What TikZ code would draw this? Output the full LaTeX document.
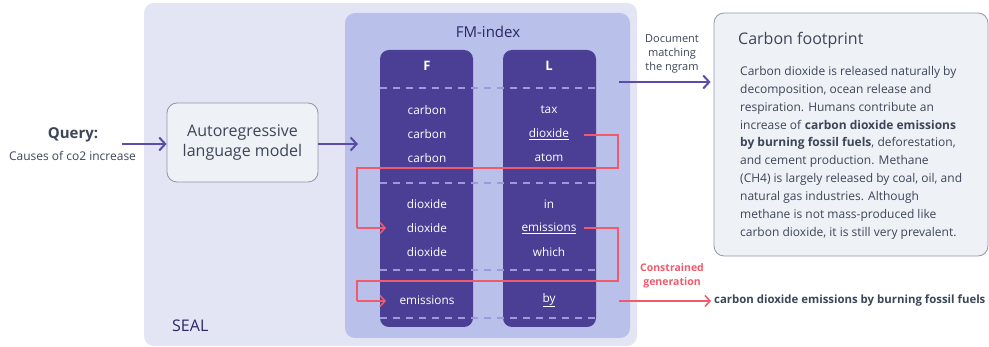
\documentclass[tikz,border=0pt]{standalone}
\usepackage{fontspec}
\setmainfont{Open Sans}
\usetikzlibrary{arrows.meta,calc}
\definecolor{sealbg}{HTML}{E3E4F4}
\definecolor{fmbg}{HTML}{B9C1EB}
\definecolor{colbg}{HTML}{4A3F95}
\definecolor{dashc}{HTML}{9C9ADB}
\definecolor{redc}{HTML}{EF5B6B}
\definecolor{purp}{HTML}{5B4CA8}
\definecolor{slate}{HTML}{3C4657}
\definecolor{boxbg}{HTML}{EEF1F6}
\definecolor{boxline}{HTML}{8E98AA}
\definecolor{navy}{HTML}{2B2664}
\tikzset{
  panel/.style={draw=none, rounded corners=10pt, inner sep=0pt},
  colbox/.style={fill=colbg, rounded corners=9pt, minimum width=93pt, minimum height=277pt, inner sep=0pt},
  cell/.style={text=white, font=\fontsize{11.8}{12}\selectfont, inner sep=0pt},
  head/.style={text=white, font=\fontsize{13}{14}\selectfont\bfseries, inner sep=0pt},
  sep/.style={dashc, line width=1.2pt, dash pattern=on 7pt off 6pt},
  redline/.style={redc, line width=1.3pt},
  redarrow/.style={redc, line width=1.5pt, -{Straight Barb[length=5pt,width=11pt,line width=1.5pt]}},
  parrow/.style={purp, line width=2pt, -{Straight Barb[length=6pt,width=13pt,line width=2pt]}},
  softbox/.style={fill=boxbg, draw=boxline, line width=0.8pt, rounded corners=10pt, inner sep=0pt},
  small/.style={text=slate, font=\fontsize{11}{14}\selectfont, align=center, inner sep=0pt},
}
\begin{document}
\begin{tikzpicture}[x=1pt,y=-1pt]
\useasboundingbox (0,0) rectangle (989,347);
% SEAL panel
\node[panel, fill=sealbg, minimum width=493pt, minimum height=343pt] (seal) at (390.5,174.5) {};
\node[anchor=base west, text=navy, font=\fontsize{16}{17}\selectfont, inner sep=0pt] (seallbl) at (172,332) {SEAL};
% FM-index panel
\node[panel, fill=fmbg, minimum width=285pt, minimum height=325pt] (fm) at (487.5,175.5) {};
\node[text=navy, font=\fontsize{15}{16}\selectfont, inner sep=0pt] (fmlbl) at (488,32) {FM-index};
% columns
\node[colbox] (F) at (426.5,188.5) {};
\node[colbox] (L) at (549.5,188.5) {};
\node[head] (Fh) at (427,66) {F};
\node[head] (Lh) at (549,66) {L};
\foreach \yy/\nm in {88/s1,183/s2,270/s3,318/s4}{
  \draw[sep] (380,\yy) coordinate (\nm a) -- (596,\yy) coordinate (\nm b);
}
% F entries
\node[cell] (F1) at (427,110) {carbon};
\node[cell] (F2) at (427,134) {carbon};
\node[cell] (F3) at (427,158) {carbon};
\node[cell] (F4) at (427,204) {dioxide};
\node[cell] (F5) at (427,228) {dioxide};
\node[cell] (F6) at (427,252) {dioxide};
\node[cell] (F7) at (427,300) {emissions};
% L entries
\node[cell] (L1) at (549,110) {tax};
\node[cell] (L2) at (549,134) {\underline{dioxide}};
\node[cell] (L3) at (549,158) {atom};
\node[cell] (L4) at (549,204) {in};
\node[cell] (L5) at (549,228) {\underline{emissions}};
\node[cell] (L6) at (549,252) {which};
\node[cell] (L7) at (549,300) {\underline{by}};
% red routing
\coordinate (r1s) at (584,135);
\coordinate (r1t) at (386,228);
\draw[redline] (r1s) -- (618,135) -- (618,168) -- (357,168) -- (357,228);
\draw[redarrow] (357,228) -- (r1t);
\coordinate (r2s) at (584,228);
\coordinate (r2t) at (386,301);
\draw[redline] (r2s) -- (618,228) -- (618,281) -- (357,281) -- (357,301);
\draw[redarrow] (357,301) -- (r2t);
% Query and model
\node[text=slate, font=\fontsize{15}{16}\selectfont\bfseries, inner sep=0pt] (q) at (73,135) {Query:};
\node[text=slate, font=\fontsize{12}{13}\selectfont, inner sep=0pt] (qs) at (72.5,156) {Causes of co2 increase};
\node[softbox, minimum width=151pt, minimum height=79pt, align=center, text=slate, font=\fontsize{16}{20}\selectfont] (model) at (242.5,142.5) {Autoregressive\\language model};
\coordinate (qa) at (122,144);
\draw[parrow] (qa) -- (model.west |- qa);
\coordinate (fmin) at (358,144);
\draw[parrow] (model.east |- fmin) -- (fmin);
% Carbon footprint box
\node[softbox, minimum width=274pt, minimum height=243pt] (cf) at (851,134.5) {};
\node[anchor=base west, text=slate, font=\fontsize{16}{18}\selectfont, inner sep=0pt] (cft) at (738,45) {Carbon footprint};
\node[anchor=north west, text=slate, font=\fontsize{12}{17.9}\selectfont, align=left, inner sep=0pt] (cfb) at (740,66) {Carbon dioxide is released naturally by\\
decomposition, ocean release and\\
respiration. Humans contribute an\\
increase of \textbf{carbon dioxide emissions}\\
\textbf{by burning fossil fuels}, deforestation,\\
and cement production. Methane\\
(CH4) is largely released by coal, oil, and\\
natural gas industries. Although\\
methane is not mass-produced like\\
carbon dioxide, it is still very prevalent.};
% document arrow
\node[small] (doc) at (672,54) {Document\\matching\\the ngram};
\coordinate (da) at (619,82);
\draw[parrow] (da) -- ([xshift=-3pt]cf.west |- da);
% constrained generation
\node[small, text=redc, font=\fontsize{10.5}{14}\selectfont\bfseries] (cg) at (672,276) {Constrained\\generation};
\coordinate (oa) at (619,301);
\node[anchor=west, text=slate, font=\fontsize{11.4}{14}\selectfont\bfseries, inner sep=0pt] (out) at (714,301) {carbon dioxide emissions by burning fossil fuels};
\draw[redarrow] (oa) -- ([xshift=-3pt]out.west);
\end{tikzpicture}
\end{document}
